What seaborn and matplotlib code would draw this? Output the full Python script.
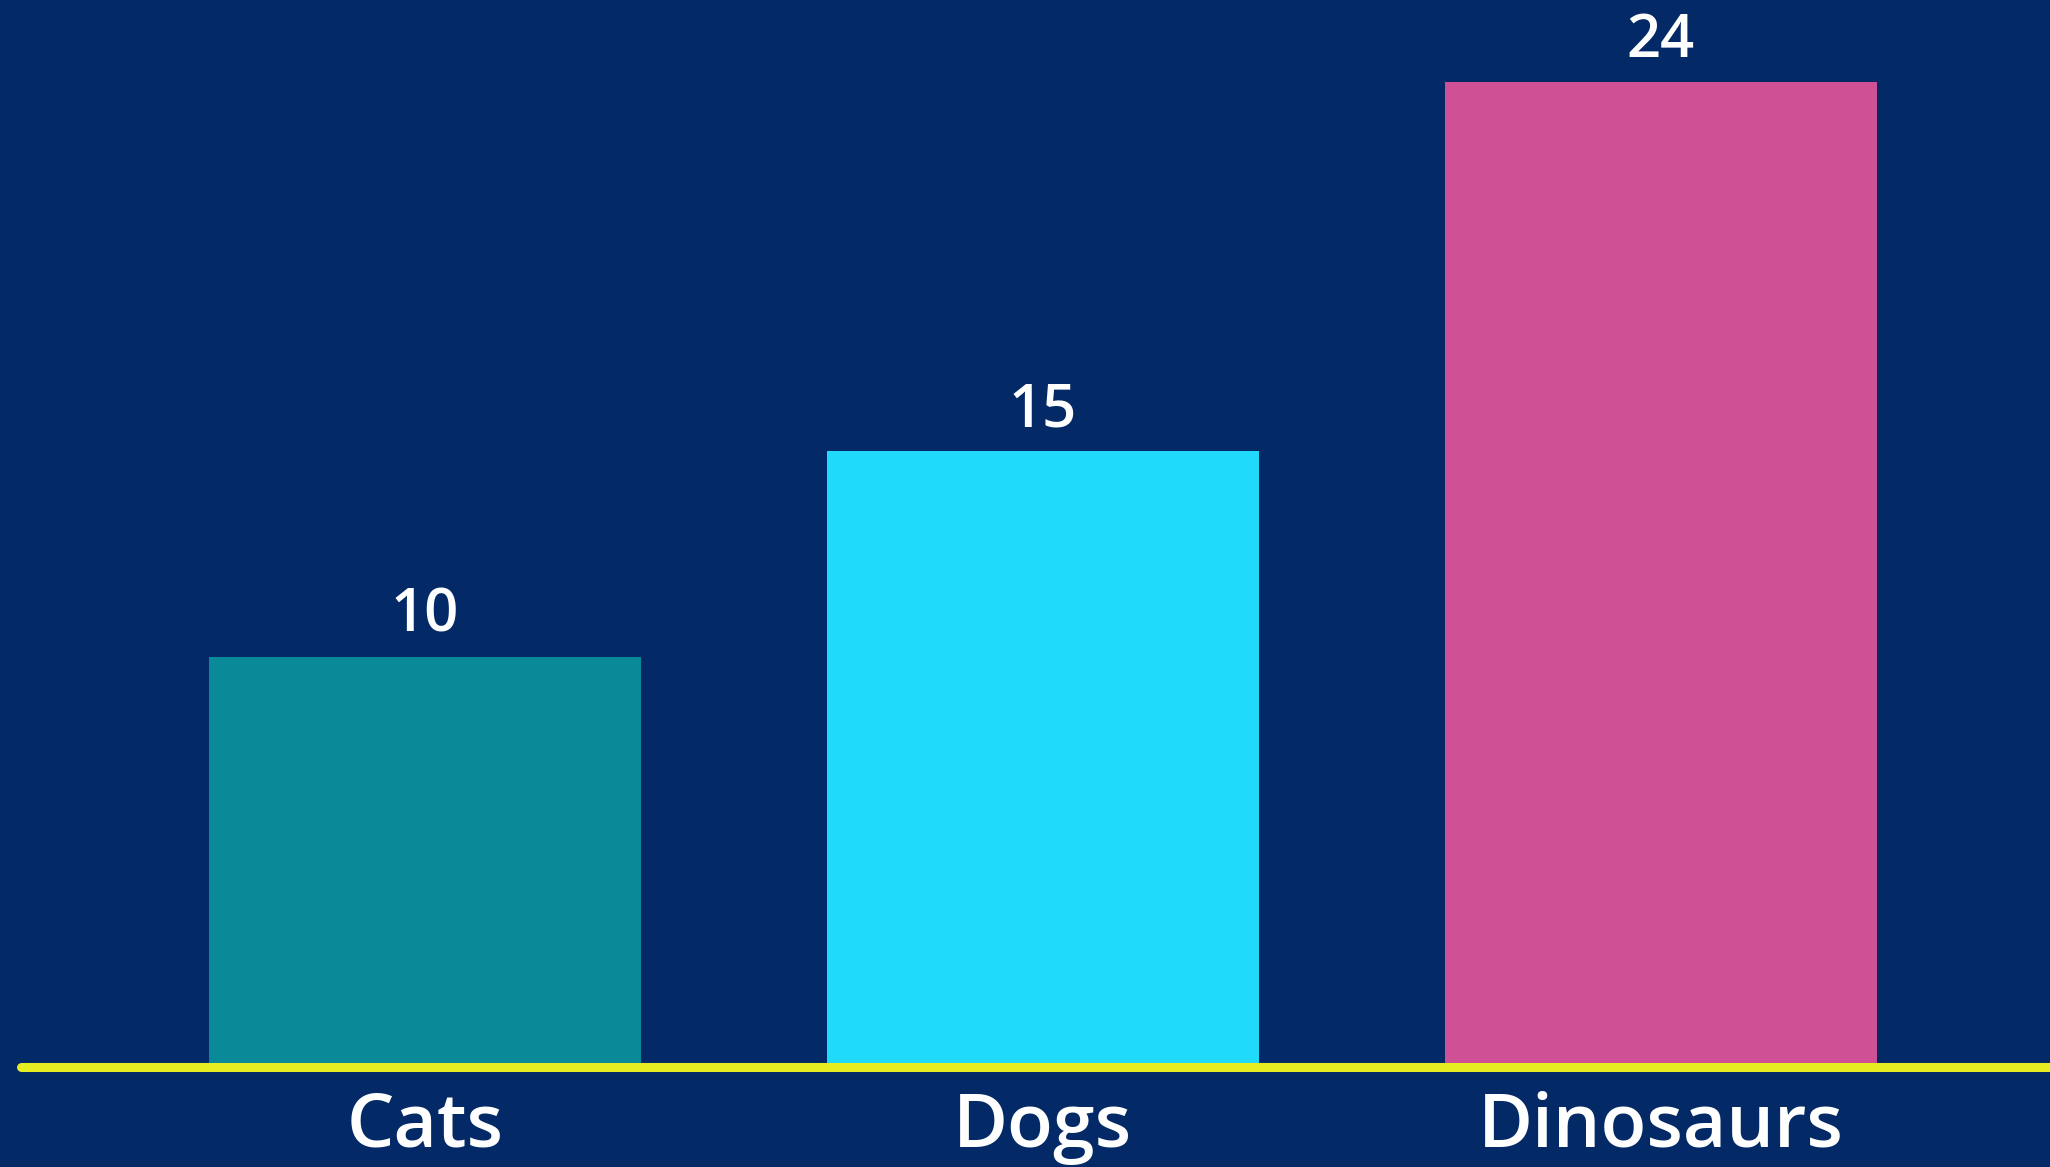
import matplotlib
matplotlib.use("Agg")
import matplotlib.pyplot as plt
import seaborn as sns
import pandas as pd

categories = ["Cats", "Dogs", "Dinosaurs"]
values = [10, 15, 24]
bar_colors = ["#0A8A99", "#1FDAF8", "#D05096"]

BG = "#032A66"
AXIS_YELLOW = "#E6EE22"

sns.set_theme(style="white")
plt.rcParams["font.family"] = ["Open Sans", "DejaVu Sans"]

df = pd.DataFrame({"animal": categories, "count": values})

W, H, DPI = 2050, 1167, 100
fig = plt.figure(figsize=(W / DPI, H / DPI), dpi=DPI, facecolor=BG)
left_px, base_px = 21, 1067
ax = fig.add_axes([left_px / W, (H - base_px) / H, (W - left_px) / W, base_px / H])
ax.set_facecolor(BG)

sns.barplot(data=df, x="animal", y="count", hue="animal", palette=bar_colors,
            legend=False, width=0.70, saturation=1, linewidth=0, ax=ax)

ax.set_xlim(-0.654, 2.63)
ax.set_ylim(0, 26.0)

for c in ax.containers:
    ax.bar_label(c, fmt="%d", padding=8, color="white", fontsize=43, fontweight="semibold")

ax.axhline(0, color=AXIS_YELLOW, linewidth=6.5, zorder=5, clip_on=False)

for s in ax.spines.values():
    s.set_visible(False)
ax.set_yticks([])
ax.set_xlabel("")
ax.set_ylabel("")
ax.tick_params(axis="x", length=0, pad=17, labelsize=54, labelcolor="white")
for t in ax.get_xticklabels():
    t.set_fontweight("semibold")

fig.savefig("out.png", dpi=DPI, facecolor=BG)
